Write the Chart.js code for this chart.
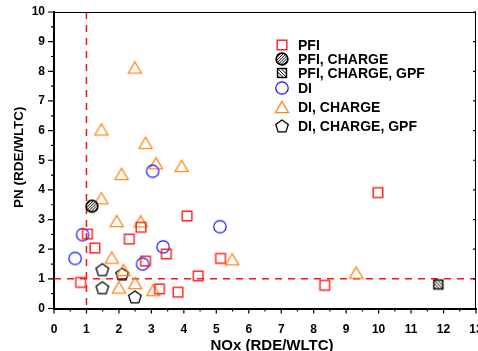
<!DOCTYPE html>
<html>
<head>
<meta charset="utf-8">
<script src="https://cdn.jsdelivr.net/npm/chart.js@4.4.1/dist/chart.umd.min.js"></script>
<style>
  html, body { margin: 0; padding: 0; background: #fff; }
</style>
</head>
<body>
<canvas id="chart" width="478" height="351"></canvas>
<script>
// ====== DATA (NOx ratio, PN ratio) ======
const pfiNox = [0.82, 1.03, 1.26, 2.32, 2.68, 2.82, 3.25, 3.46, 3.82, 4.10, 4.44, 5.13, 8.34, 9.98];
const pfiPn  = [0.88, 2.51, 2.04, 2.34, 2.74, 1.60, 0.66, 1.84, 0.55, 3.12, 1.10, 1.69, 0.78, 3.91];

const pfiChargeNox = [1.17];
const pfiChargePn  = [3.45];

const pfiChargeGpfNox = [11.84];
const pfiChargeGpfPn  = [0.81];

const diNox = [0.65, 0.88, 3.04, 3.36, 2.73, 5.11];
const diPn  = [1.69, 2.49, 4.63, 2.08, 1.50, 2.76];

const diChargeNox = [2.49, 1.46, 2.82, 3.14, 3.93, 2.08, 1.46, 1.93, 2.67, 1.78, 2.14, 2.00, 2.50, 3.06, 5.49, 9.31];
const diChargePn  = [8.13, 6.04, 5.59, 4.90, 4.81, 4.54, 3.72, 2.95, 2.94, 1.72, 1.30, 0.71, 0.86, 0.62, 1.66, 1.21];

const diChargeGpfNox = [1.49, 2.10, 1.49, 2.49];
const diChargeGpfPn  = [1.31, 1.16, 0.70, 0.39];

const seriesLabels = ['PFI', 'PFI, CHARGE', 'PFI, CHARGE, GPF', 'DI', 'DI, CHARGE', 'DI, CHARGE, GPF'];
const xTickValues = [0, 1, 2, 3, 4, 5, 6, 7, 8, 9, 10, 11, 12, 13];
const yTickValues = [0, 1, 2, 3, 4, 5, 6, 7, 8, 9, 10];
const limitNox = 1;
const limitPn = 1;
// =======================================

const FONT = '"Liberation Sans", Arial, sans-serif';

// markers drawn on small canvases, centered
function marker(w, h, draw){
  const c = document.createElement('canvas');
  c.width = w; c.height = h;
  draw(c.getContext('2d'), w / 2, h / 2);
  return c;
}
function hatch(g, cx, cy, half, dir, step){
  g.strokeStyle = '#000';
  g.lineWidth = 1;
  for (let k = -3 * half; k <= 3 * half; k += step) {
    g.beginPath();
    if (dir > 0) { g.moveTo(cx + k - half - 2, cy + half + 2); g.lineTo(cx + k + half + 2, cy - half - 2); }
    else         { g.moveTo(cx + k - half - 2, cy - half - 2); g.lineTo(cx + k + half + 2, cy + half + 2); }
    g.stroke();
  }
}

const mkSquare = marker(14, 14, (g, x, y) => {
  g.strokeStyle = '#ff1a1a'; g.lineWidth = 1.4;
  g.strokeRect(x - 4.8, y - 4.8, 9.6, 9.6);
});
const mkHatchCircle = marker(16, 16, (g, x, y) => {
  g.save();
  g.beginPath(); g.arc(x, y, 5.9, 0, Math.PI * 2);
  g.fillStyle = '#fff'; g.fill(); g.clip();
  hatch(g, x, y, 6, 1, 2.8);
  g.restore();
  g.beginPath(); g.arc(x, y, 5.9, 0, Math.PI * 2);
  g.strokeStyle = '#000'; g.lineWidth = 1.6; g.stroke();
});
const mkHatchSquare = marker(14, 14, (g, x, y) => {
  g.save();
  g.beginPath(); g.rect(x - 4.5, y - 4.5, 9, 9);
  g.fillStyle = '#fff'; g.fill(); g.clip();
  hatch(g, x, y, 4.5, -1, 3.4);
  g.restore();
  g.strokeStyle = '#000'; g.lineWidth = 1.4;
  g.strokeRect(x - 4.5, y - 4.5, 9, 9);
});
const mkCircle = marker(16, 16, (g, x, y) => {
  g.beginPath(); g.arc(x, y, 6.2, 0, Math.PI * 2);
  g.strokeStyle = '#1010ff'; g.lineWidth = 1.2; g.stroke();
});
const mkTriangle = marker(18, 16, (g, x, y) => {
  g.beginPath();
  g.moveTo(x, y - 5.6);
  g.lineTo(x + 6.6, y + 5.6);
  g.lineTo(x - 6.6, y + 5.6);
  g.closePath();
  g.strokeStyle = '#ff8a1c'; g.lineWidth = 1.3; g.stroke();
});
const mkPentagon = marker(18, 18, (g, x, y) => {
  const r = 6.6;
  g.beginPath();
  for (let i = 0; i < 5; i++) {
    const a = -Math.PI / 2 + i * 2 * Math.PI / 5;
    const px = x + r * Math.cos(a), py = y + 0.6 + r * Math.sin(a);
    i ? g.lineTo(px, py) : g.moveTo(px, py);
  }
  g.closePath();
  g.strokeStyle = '#000'; g.lineWidth = 1.3; g.stroke();
});

const markers = [mkSquare, mkHatchCircle, mkHatchSquare, mkCircle, mkTriangle, mkPentagon];
const seriesX = [pfiNox, pfiChargeNox, pfiChargeGpfNox, diNox, diChargeNox, diChargeGpfNox];
const seriesY = [pfiPn, pfiChargePn, pfiChargeGpfPn, diPn, diChargePn, diChargeGpfPn];

const datasets = seriesLabels.map((label, i) => ({
  label,
  data: seriesX[i].map((x, j) => ({ x, y: seriesY[i][j] })),
  pointStyle: markers[i],
  pointRadius: 6,
  showLine: false
}));

// no label overflow padding: the last x label is cut by the canvas edge
function noPadding(s){
  s.paddingLeft = s.paddingRight = s.paddingTop = s.paddingBottom = 0;
  s.getPadding = () => ({ left: 0, top: 0, right: 0, bottom: 0 });
}

// dashed limits, frame, minor ticks, titles and legend
const decor = {
  id: 'decor',
  beforeDatasetsDraw(chart){
    const { ctx, chartArea: a, scales: { x, y } } = chart;
    ctx.save();
    ctx.strokeStyle = '#ff1010';
    ctx.lineWidth = 1.5;
    ctx.setLineDash([7, 6]);
    const lx = x.getPixelForValue(limitNox);
    ctx.beginPath(); ctx.moveTo(lx, a.top); ctx.lineTo(lx, a.bottom); ctx.stroke();
    const ly = y.getPixelForValue(limitPn);
    ctx.beginPath(); ctx.moveTo(a.left, ly); ctx.lineTo(a.right, ly); ctx.stroke();
    ctx.restore();
  },
  afterDraw(chart){
    const { ctx, chartArea: a, scales: { x, y } } = chart;
    ctx.save();
    ctx.strokeStyle = '#000';
    // top & right frame
    ctx.lineWidth = 1;
    ctx.beginPath();
    ctx.moveTo(a.left, a.top + 0.5); ctx.lineTo(a.right, a.top + 0.5);
    ctx.moveTo(a.right - 0.5, a.top); ctx.lineTo(a.right - 0.5, a.bottom);
    ctx.stroke();
    // tick marks
    ctx.lineWidth = 1.2;
    ctx.beginPath();
    for (let v = 0; v <= 10; v += 0.5) {
      const py = y.getPixelForValue(v);
      const major = v % 1 === 0;
      ctx.moveTo(a.left - (major ? 6 : 3), py); ctx.lineTo(a.left, py);
      if (major) { ctx.moveTo(a.right, py); ctx.lineTo(a.right - 3, py); }
    }
    for (let v = 0; v <= 13; v += 0.5) {
      const px = x.getPixelForValue(v);
      const major = v % 1 === 0;
      ctx.moveTo(px, a.bottom); ctx.lineTo(px, a.bottom + (major ? 5 : 3));
    }
    ctx.stroke();

    // axis titles
    ctx.fillStyle = '#000';
    ctx.font = 'bold 15px ' + FONT;
    ctx.textAlign = 'center';
    ctx.textBaseline = 'alphabetic';
    ctx.fillText('NOx (RDE/WLTC)', (a.left + a.right) / 2 + 7, 349.5);
    ctx.save();
    ctx.translate(23, (a.top + a.bottom) / 2 - 3);
    ctx.rotate(-Math.PI / 2);
    ctx.font = 'bold 13.5px ' + FONT;
    ctx.fillText('PN (RDE/WLTC)', 0, 0);
    ctx.restore();

    // legend
    const rows = [45, 58.5, 72.5, 88.3, 106.5, 126];
    const mx = a.left + 227.5, tx = a.left + 244;
    ctx.font = 'bold 14px ' + FONT;
    ctx.textAlign = 'left';
    chart.data.datasets.forEach((ds, i) => {
      const m = ds.pointStyle;
      ctx.drawImage(m, Math.round(mx - m.width / 2), Math.round(rows[i] - m.height / 2));
      ctx.fillText(ds.label, tx, rows[i] + 5);
    });
    ctx.restore();
  }
};

new Chart(document.getElementById('chart'), {
  type: 'scatter',
  data: { datasets },
  options: {
    responsive: false,
    animation: false,
    devicePixelRatio: 1,
    layout: { autoPadding: false, padding: { top: 12, right: 2, left: 0, bottom: 0 } },
    plugins: { legend: { display: false }, tooltip: { enabled: false } },
    scales: {
      x: {
        type: 'linear', min: 0, max: 13,
        afterBuildTicks: s => { s.ticks = xTickValues.map(value => ({ value })); },
        ticks: { color: '#000', font: { family: FONT, size: 12, weight: 'bold' }, padding: 14, maxRotation: 0, autoSkip: false },
        grid: { display: false, drawTicks: false },
        border: { display: true, width: 2, color: '#000' },
        afterFit: s => { s.height = 42.5; noPadding(s); }
      },
      y: {
        type: 'linear', min: 0, max: 10,
        afterBuildTicks: s => { s.ticks = yTickValues.map(value => ({ value })); },
        ticks: { color: '#000', font: { family: FONT, size: 12, weight: 'bold' }, padding: 9 },
        grid: { display: false, drawTicks: false },
        border: { display: true, width: 2, color: '#000' },
        afterFit: s => { s.width = 54; noPadding(s); }
      }
    }
  },
  plugins: [decor]
});
</script>
</body>
</html>
